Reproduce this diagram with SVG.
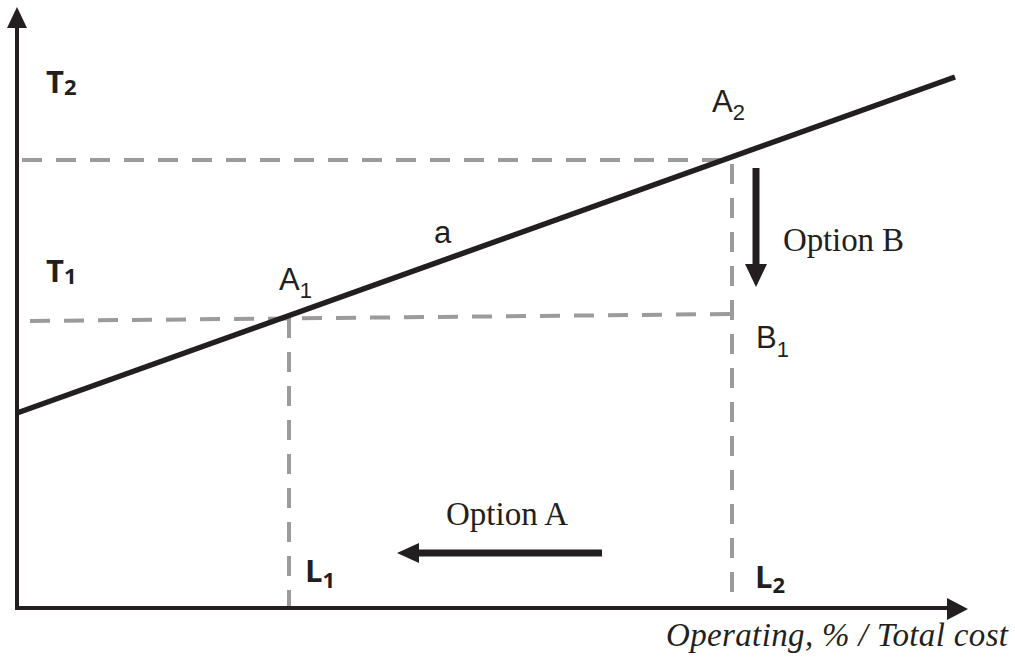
<svg xmlns="http://www.w3.org/2000/svg" width="1015" height="659" viewBox="0 0 1015 659">
<style>
.axis{stroke:#231f20;stroke-width:4;fill:none}
.dash{stroke:#9b9b9b;stroke-width:4;fill:none;stroke-dasharray:20 14}
.head{fill:#231f20}
.sans{font-family:"Liberation Sans",Arial,sans-serif;fill:#231f20}
.bold{font-family:"Open Sans","Liberation Sans",sans-serif;font-weight:bold;fill:#231f20}
.serif{font-family:"Liberation Serif","DejaVu Serif",serif;fill:#231f20}
</style>
<rect width="1015" height="659" fill="#fff"/>
<g id="connectors">
<path class="dash" d="M22 160 H732 V600"/>
<path class="dash" d="M30 321 L732 314"/>
<path class="dash" d="M289 318 V606"/>
<line class="axis" x1="17" y1="608" x2="17" y2="26"/>
<polygon class="head" points="17,7 7,28 27,28"/>
<line class="axis" x1="15" y1="608" x2="950" y2="608"/>
<polygon class="head" points="968,609 947,598 947,620"/>
<line stroke="#231f20" stroke-width="5.5" x1="17" y1="413" x2="955" y2="77"/>
<line stroke="#231f20" stroke-width="7" x1="756" y1="168" x2="756" y2="266"/>
<polygon class="head" points="756,287 745,264 767,264"/>
<line stroke="#231f20" stroke-width="7" x1="602" y1="553" x2="416" y2="553"/>
<polygon class="head" points="397,553 419,543 419,563"/>
</g>
<g id="T2"><text class="bold" x="46" y="93" font-size="31">T<tspan font-size="22" dy="2">2</tspan></text></g>
<g id="T1"><text class="bold" x="46" y="282" font-size="31">T<tspan font-size="22" dy="2">1</tspan></text></g>
<g id="A1"><text class="sans" x="279" y="290" font-size="31">A<tspan font-size="22" dy="8">1</tspan></text></g>
<g id="A2"><text class="sans" x="712" y="112" font-size="31">A<tspan font-size="22" dy="8">2</tspan></text></g>
<g id="a"><text class="sans" x="434" y="243" font-size="31">a</text></g>
<g id="B1"><text class="sans" x="756" y="348" font-size="31">B<tspan font-size="22" dy="9">1</tspan></text></g>
<g id="L1"><text class="bold" x="305" y="582" font-size="31">L<tspan font-size="22" dy="6">1</tspan></text></g>
<g id="L2"><text class="bold" x="755" y="588" font-size="31">L<tspan font-size="22" dy="5">2</tspan></text></g>
<g id="optionB"><text class="serif" x="783" y="251" font-size="33" textLength="121">Option B</text></g>
<g id="optionA"><text class="serif" x="446" y="525" font-size="33" textLength="122">Option A</text></g>
<g id="xlabel"><text class="serif" x="1008" y="646" font-size="33" font-style="italic" text-anchor="end" textLength="342">Operating, % / Total cost</text></g>
</svg>
